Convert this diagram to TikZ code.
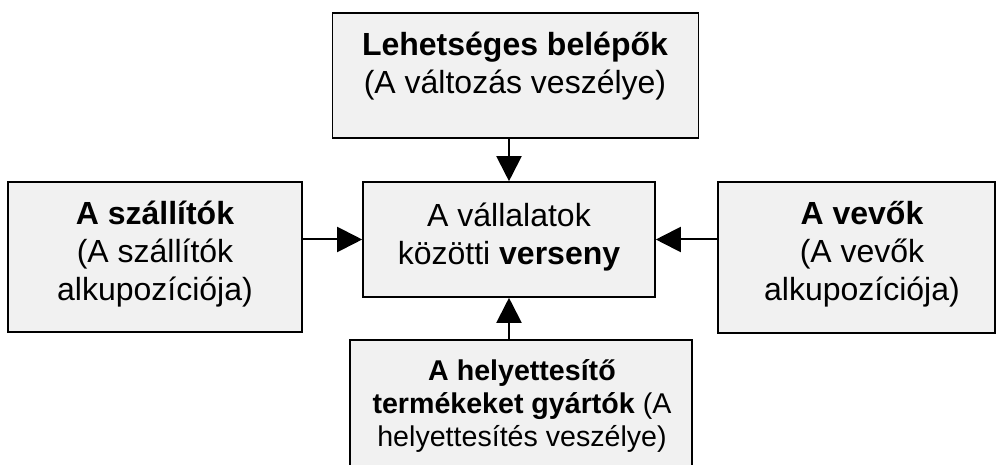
\documentclass[tikz,border=0pt]{standalone}
\usepackage{fontspec}
\setmainfont{Liberation Sans}
\usetikzlibrary{arrows.meta}
\definecolor{boxfill}{HTML}{F1F1F1}
\tikzset{
  panel/.style={draw=black, line width=1.6pt, fill=boxfill, inner sep=0pt},
  label/.style={align=center, inner sep=0pt, font=\fontsize{32}{38}\selectfont},
  smalllabel/.style={label, font=\fontsize{28.6}{33}\selectfont},
  arr/.style={line width=2pt, -{Triangle[length=25pt,width=25pt]}}
}
\begin{document}
\begin{tikzpicture}[x=1pt,y=-1pt]
  \useasboundingbox (0,0) rectangle (997,465);
  \clip (0,0) rectangle (997,465);

  % boxes
  \node[panel, minimum width=366pt, minimum height=125pt] (entrants) at (515.5,75.5) {};
  \node[panel, minimum width=292pt, minimum height=115pt] (rivalry) at (509,239.5) {};
  \node[panel, minimum width=294pt, minimum height=150pt] (suppliers) at (155,257) {};
  \node[panel, minimum width=277pt, minimum height=151pt] (buyers) at (856.5,257.5) {};
  \node[panel, minimum width=342pt, minimum height=150pt] (substitutes) at (521,415) {};

  % texts
  \node[label] (tEntrants) at (515,66) {\textbf{Lehetséges belépők}\\(A változás veszélye)};
  \node[label] (tRivalry) at (509,237) {A vállalatok\\közötti \textbf{verseny}};
  \node[label] (tSuppliers) at (155,254) {\textbf{A szállítók}\\(A szállítók\\alkupozíciója)};
  \node[label] (tBuyers) at (862,254) {\textbf{A vevők}\\(A vevők\\alkupozíciója)};
  \node[smalllabel] (tSubstitutes) at (522,406) {\textbf{A helyettesítő}\\\textbf{termékeket gyártók} (A\\helyettesítés veszélye)};

  % forces pointing at the rivalry box
  \draw[arr] (entrants.south -| rivalry.north) -- (rivalry.north);
  \draw[arr] (substitutes.north -| rivalry.south) -- (rivalry.south);
  \draw[arr] (suppliers.east |- rivalry.west) -- (rivalry.west);
  \draw[arr] (buyers.west |- rivalry.east) -- (rivalry.east);
\end{tikzpicture}
\end{document}
